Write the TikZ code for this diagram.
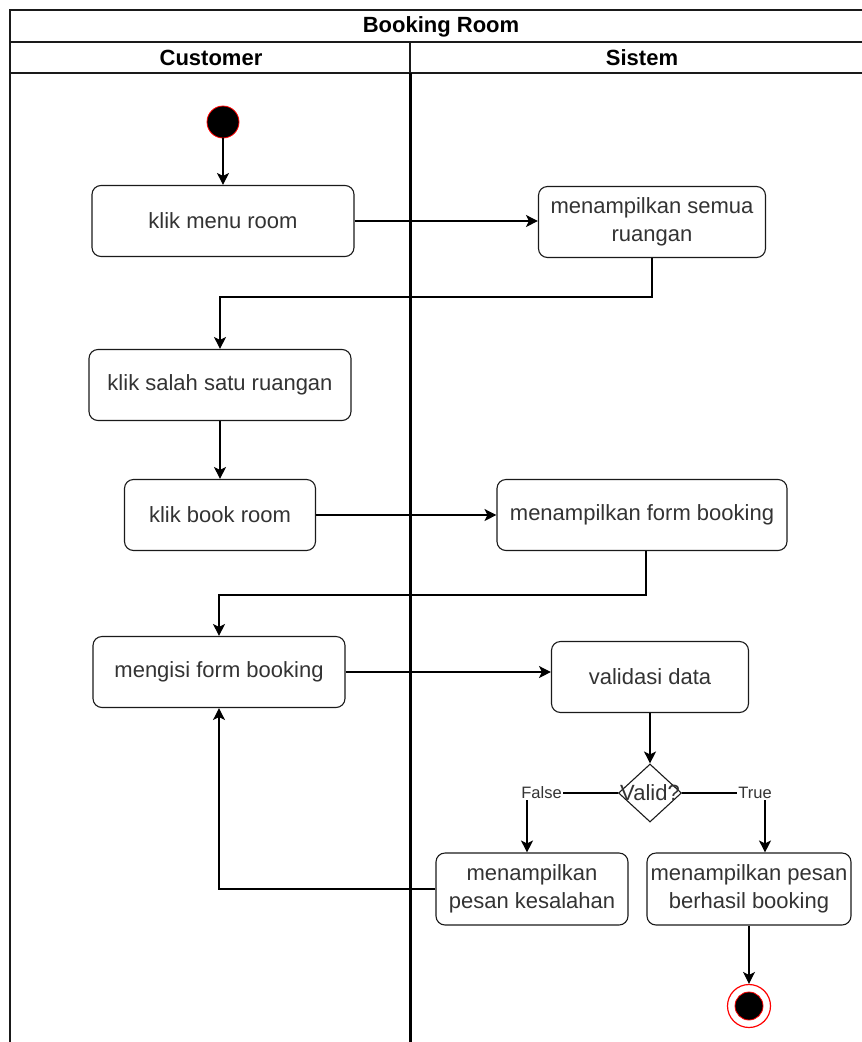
\documentclass[tikz,border=0pt]{standalone}
\usepackage{fontspec}
\setmainfont{Liberation Sans}
\usetikzlibrary{arrows.meta,shapes.geometric}
\definecolor{ink}{HTML}{1A1A1A}
\definecolor{txt}{HTML}{333333}

\begin{document}
\begin{tikzpicture}[x=1pt,y=-1pt,
  act/.style={draw=ink, line width=1.1pt, rounded corners=9pt, inner sep=0pt,
    align=center, text=txt, font=\fontsize{22}{28.5}\selectfont},
  flow/.style={draw=black, line width=1.2pt,
    -{Stealth[length=12pt,width=12pt,inset=3pt]}},
  guard/.style={fill=white, inner sep=1pt, text=txt,
    font=\fontsize{16.5}{18}\selectfont},
  head/.style={font=\bfseries\fontsize{22}{26}\selectfont, text=black},
  frameline/.style={draw=ink, line width=1.4pt},
  initial/.style={circle, fill=black, draw=red, line width=0.8pt, inner sep=0pt}
]
\useasboundingbox (0,0) rectangle (862,1042);

% swimlane frame
\draw[frameline] (10,1060) -- (10,10) -- (880,10);
\draw[frameline] (10,42) -- (880,42);
\draw[frameline] (10,73) -- (880,73);
\draw[frameline] (410,42) -- (410,73);
\draw[draw=black, line width=3pt] (410,73) -- (410,1060);

\node[head] (title) at (441,27) {Booking Room};
\node[head] (cust) at (211,58) {Customer};
\node[head] (sis) at (642,58) {Sistem};

% activities
\node[initial, minimum size=32pt] (start) at (223,122) {};
\node[act, minimum width=262pt, minimum height=71pt] (menu) at (223,221) {klik menu room};
\node[act, minimum width=227pt, minimum height=71pt] (semua) at (652,222) {menampilkan semua\\ruangan};
\node[act, minimum width=262pt, minimum height=71pt] (salah) at (220,385) {klik salah satu ruangan};
\node[act, minimum width=191pt, minimum height=71pt] (book) at (220,515) {klik book room};
\node[act, minimum width=290pt, minimum height=71pt] (form) at (642,515) {menampilkan form booking};
\node[act, minimum width=252pt, minimum height=71pt] (isi) at (219,672) {mengisi form booking};
\node[act, minimum width=197pt, minimum height=71pt] (valid) at (650,677) {validasi data};
\node[draw=ink, line width=1.1pt, diamond, minimum width=63pt, minimum height=58pt,
  inner sep=0pt, text=txt, font=\fontsize{22}{26}\selectfont] (dec) at (650,793) {\makebox[0pt]{Valid?}};
\node[act, minimum width=192pt, minimum height=72pt] (salahpesan) at (532,889) {menampilkan\\pesan kesalahan};
\node[act, minimum width=204pt, minimum height=72pt] (berhasil) at (749,889) {menampilkan pesan\\berhasil booking};
\node[circle, draw=red, fill=white, line width=1.2pt, minimum size=43pt, inner sep=0pt] (end) at (749,1006) {};
\node[initial, minimum size=28pt] (endcore) at (end) {};

% control flow
\draw[flow] (start) -- (menu);
\draw[flow] (menu.east) -- (menu.east -| semua.west);
\draw[flow] (semua.south) -- ++(0,39) -| (salah.north);
\draw[flow] (salah) -- (book);
\draw[flow] (book.east) -- (form.west);
\draw[flow] ([xshift=4pt]form.south) -- ++(0,44) -| (isi.north);
\draw[flow] (isi.east) -- (isi.east -| valid.west);
\draw[flow] (valid) -- (dec);
\draw[flow] (dec.west) -| node[guard, pos=0.42] {False} ([xshift=-5pt]salahpesan.north);
\draw[flow] (dec.east) -| node[guard, pos=0.44] {True} ([xshift=16pt]berhasil.north);
\draw[flow] (salahpesan.west) -| (isi.south);
\draw[flow] (berhasil) -- (end);
\end{tikzpicture}
\end{document}
